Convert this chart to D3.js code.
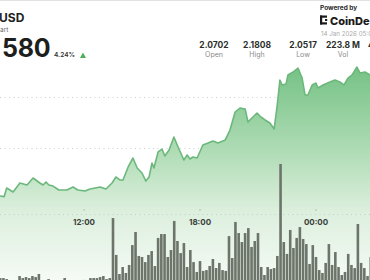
<!DOCTYPE html>
<html>
<head>
<meta charset="utf-8">
<script src="https://cdn.jsdelivr.net/npm/d3@7"></script>
<style>
  body { margin: 0; background: #fff; }
  svg { display: block; font-family: Inter, "Open Sans", sans-serif; }
</style>
</head>
<body>
<svg id="chart" width="370" height="280"></svg>
<script>
// price line (13-14 Jan 2026)
var lineTimes = ["01-13 07:39","01-13 07:52","01-13 08:00","01-13 08:20","01-13 08:41","01-13 09:03","01-13 09:22","01-13 09:43",
  "01-13 09:53","01-13 10:02","01-13 10:11","01-13 10:24","01-13 10:42","01-13 11:07","01-13 11:26","01-13 11:41",
  "01-13 12:03","01-13 12:19","01-13 12:50","01-13 13:08","01-13 13:27","01-13 13:39","01-13 13:52","01-13 14:01",
  "01-13 14:17","01-13 14:32","01-13 14:45","01-13 15:00","01-13 15:12","01-13 15:22","01-13 15:31","01-13 15:37",
  "01-13 15:50","01-13 16:02","01-13 16:11","01-13 16:24","01-13 16:39","01-13 16:52","01-13 17:10","01-13 17:20",
  "01-13 17:29","01-13 17:38","01-13 17:51","01-13 18:09","01-13 18:25","01-13 18:40","01-13 18:56","01-13 19:18",
  "01-13 19:33","01-13 19:49","01-13 20:04","01-13 20:20","01-13 20:29","01-13 20:41","01-13 20:57","01-13 21:09",
  "01-13 21:22","01-13 21:37","01-13 21:50","01-13 21:59","01-13 22:08","01-13 22:15","01-13 22:27","01-13 22:33",
  "01-13 22:49","01-13 23:04","01-13 23:17","01-13 23:26","01-13 23:35","01-13 23:48","01-14 00:00","01-14 00:06",
  "01-14 00:22","01-14 00:43","01-14 00:59","01-14 01:14","01-14 01:27","01-14 01:39","01-14 01:52","01-14 02:07",
  "01-14 02:17","01-14 02:32","01-14 02:48"];
var linePrices = [2.0529,2.0523,2.0608,2.0569,2.0657,2.0637,2.0706,2.0657,
  2.0637,2.0667,2.0637,2.0627,2.0588,2.0588,2.0618,2.0588,
  2.0578,2.0598,2.0618,2.0598,2.0657,2.0716,2.0686,2.0686,
  2.0814,2.0902,2.0804,2.0755,2.0676,2.0716,2.0853,2.0804,
  2.0961,2.0990,2.0922,2.0980,2.1108,2.1010,2.0882,2.0931,
  2.0892,2.0912,2.0902,2.1029,2.1049,2.1069,2.1049,2.1078,
  2.1176,2.1353,2.1392,2.1382,2.1255,2.1294,2.1343,2.1304,
  2.1275,2.1245,2.1186,2.1402,2.1667,2.1618,2.1627,2.1716,
  2.1745,2.1784,2.1686,2.1520,2.1520,2.1618,2.1637,2.1588,
  2.1618,2.1647,2.1667,2.1647,2.1618,2.1686,2.1716,2.1794,
  2.1735,2.1745,2.1716];

// 10 minute volume bars (millions), first bar at 07:40
var volStart = "01-13 07:40";
var volumes = [0.82,0.82,0.76,0.53,0.47,0.59,0.94,0.82,0.88,0.82,0.94,0.88,1.06,0.53,0.59,0.76,
  0.47,0.53,0.59,0.53,0.82,0.53,0.59,0.47,0.53,0.59,0.71,0.65,0.82,0.82,0.82,0.88,
  0.94,0.76,0.82,4.35,2.18,1.06,1.47,1.12,1.59,2.76,3.53,2.12,2.06,1.76,2.18,2.41,
  1.53,3.18,3.41,3.41,2.06,2.47,4.18,3.00,2.29,2.88,1.47,2.47,1.76,1.18,1.82,1.24,
  1.29,1.53,1.94,1.41,1.71,1.29,1.24,3.29,2.00,4.12,3.47,2.94,3.47,3.76,2.65,3.00,
  3.47,1.47,1.00,1.47,1.35,1.41,2.12,7.53,2.94,2.24,3.65,2.59,3.18,3.82,3.12,2.82,
  1.65,2.76,2.06,1.29,1.12,1.71,2.82,1.59,2.35,1.47,1.00,1.18,2.24,1.59,1.41,4.00,
  1.71,1.41,0.94,2.06];

var gridPrices = [2.10, 2.15];
var timeTicks = ["01-13 12:00","01-13 18:00","01-14 00:00"];

var stats = [
  {value: "2.0702", label: "Open"},
  {value: "2.1808", label: "High"},
  {value: "2.0517", label: "Low"},
  {value: "223.8 M", label: "Vol"}
];

var parse = d3.timeParse("%Y-%m-%d %H:%M");
function toDate(s) { return parse("2026-" + s); }

var svg = d3.select("#chart");

var x = d3.scaleTime()
  .domain([toDate("01-13 12:00"), toDate("01-14 00:00")])
  .range([84, 316]);
var y = d3.scaleLinear().domain([2.05, 2.20]).range([199, 46]);
var yv = d3.scaleLinear().domain([0, 8]).range([292, 156]);

var lineData = lineTimes.map(function(t, i) { return {date: toDate(t), price: linePrices[i]}; });

// area gradient
var defs = svg.append("defs");
var grad = defs.append("linearGradient")
  .attr("id", "areaGrad")
  .attr("gradientUnits", "userSpaceOnUse")
  .attr("x1", 0).attr("x2", 0).attr("y1", 65).attr("y2", 280);
grad.append("stop").attr("offset", "0").attr("stop-color", "#74c184");
grad.append("stop").attr("offset", "0.4").attr("stop-color", "#afdcb5");
grad.append("stop").attr("offset", "0.68").attr("stop-color", "#dcefdd");
grad.append("stop").attr("offset", "1").attr("stop-color", "#f5faf5");

// top border
svg.append("line").attr("x1", 0).attr("x2", 370).attr("y1", 0.5).attr("y2", 0.5)
  .attr("stroke", "#e2e2e2");

// gridlines
svg.selectAll(".grid").data(gridPrices).enter().append("line")
  .attr("x1", 0).attr("x2", 370)
  .attr("y1", function(d) { return Math.round(y(d)) + 0.5; })
  .attr("y2", function(d) { return Math.round(y(d)) + 0.5; })
  .attr("stroke", "#cfcfcf").attr("stroke-dasharray", "1,3.5");

// area + line
var area = d3.area()
  .x(function(d) { return x(d.date); })
  .y0(292)
  .y1(function(d) { return y(d.price); });
svg.append("path").datum(lineData).attr("d", area).attr("fill", "url(#areaGrad)");

var line = d3.line()
  .x(function(d) { return x(d.date); })
  .y(function(d) { return y(d.price); });
svg.append("path").datum(lineData).attr("d", line)
  .attr("fill", "none").attr("stroke", "#6cb87c").attr("stroke-width", 1.6)
  .attr("stroke-linejoin", "round");

// time axis
svg.append("line").attr("x1", 0).attr("x2", 370).attr("y1", 214.5).attr("y2", 214.5)
  .attr("stroke", "#c4cfc5").attr("stroke-dasharray", "1,3.5");
var ticks = svg.selectAll(".tick").data(timeTicks).enter().append("g")
  .attr("transform", function(d) { return "translate(" + x(toDate(d)) + ",0)"; });
ticks.append("line").attr("y1", 209).attr("y2", 211).attr("stroke", "#b5beb6");
ticks.append("text").attr("y", 225).attr("text-anchor", "middle")
  .attr("font-size", 8).attr("font-weight", 700).attr("fill", "#3a3f3b")
  .text(function(d) { return d3.timeFormat("%H:%M")(toDate(d)); });

// volume bars
var vStart = toDate(volStart);
var barW = 2.6;
svg.selectAll(".bar").data(volumes).enter().append("rect")
  .attr("x", function(d, i) { return x(d3.timeMinute.offset(vStart, i * 10)) - barW / 2; })
  .attr("width", barW)
  .attr("y", function(d) { return yv(d); })
  .attr("height", function(d) { return 292 - yv(d); })
  .attr("fill", "#6d756b");

// header left
svg.append("text").attr("x", -1).attr("y", 22).attr("font-size", 12).attr("font-weight", 700)
  .attr("fill", "#1f2320").text("USD");
svg.append("text").attr("x", 0).attr("y", 32).attr("font-size", 6.5).attr("fill", "#6b6b6b").text("art");
svg.append("text").attr("x", 2).attr("y", 57).attr("font-size", 25).attr("font-weight", 700)
  .attr("fill", "#1c1f1d").attr("letter-spacing", -0.3).text("580");
svg.append("text").attr("x", 54).attr("y", 57).attr("font-size", 6.5).attr("font-weight", 600)
  .attr("fill", "#333").text("4.24%");
svg.append("path").attr("d", "M80,58 L83,52.5 L86,58 Z").attr("fill", "#4cb05a");

// header right
svg.append("text").attr("x", 320).attr("y", 10).attr("font-size", 6.5).attr("font-weight", 700)
  .attr("fill", "#2a2a2a").text("Powered by");
var logo = svg.append("g").attr("fill", "#1a1a1a");
logo.append("rect").attr("x", 320).attr("y", 15.5).attr("width", 2.2).attr("height", 9);
logo.append("rect").attr("x", 320).attr("y", 15.5).attr("width", 7).attr("height", 2.2);
logo.append("rect").attr("x", 320).attr("y", 22.3).attr("width", 7).attr("height", 2.2);
logo.append("rect").attr("x", 325).attr("y", 19).attr("width", 2.2).attr("height", 2);
svg.append("text").attr("x", 330).attr("y", 25).attr("font-size", 11).attr("font-weight", 800)
  .attr("fill", "#1a1a1a").text("CoinDesk");
svg.append("text").attr("x", 321).attr("y", 36).attr("font-size", 6.2)
  .attr("fill", "#a9a9a9").text("14 Jan 2026 05:00");

var statX = [214, 257, 303, 343];
var st = svg.selectAll(".stat").data(stats).enter().append("g")
  .attr("transform", function(d, i) { return "translate(" + statX[i] + ",0)"; });
st.append("text").attr("y", 48).attr("text-anchor", "middle").attr("font-size", 8.5)
  .attr("font-weight", 700).attr("fill", "#2b2f2c").text(function(d) { return d.value; });
st.append("text").attr("y", 57).attr("text-anchor", "middle").attr("font-size", 7)
  .attr("fill", "#8a8a8a").text(function(d) { return d.label; });
svg.append("text").attr("x", 368).attr("y", 48).attr("font-size", 8.5).attr("font-weight", 700)
  .attr("fill", "#2b2f2c").text("4.24%");
</script>
</body>
</html>
